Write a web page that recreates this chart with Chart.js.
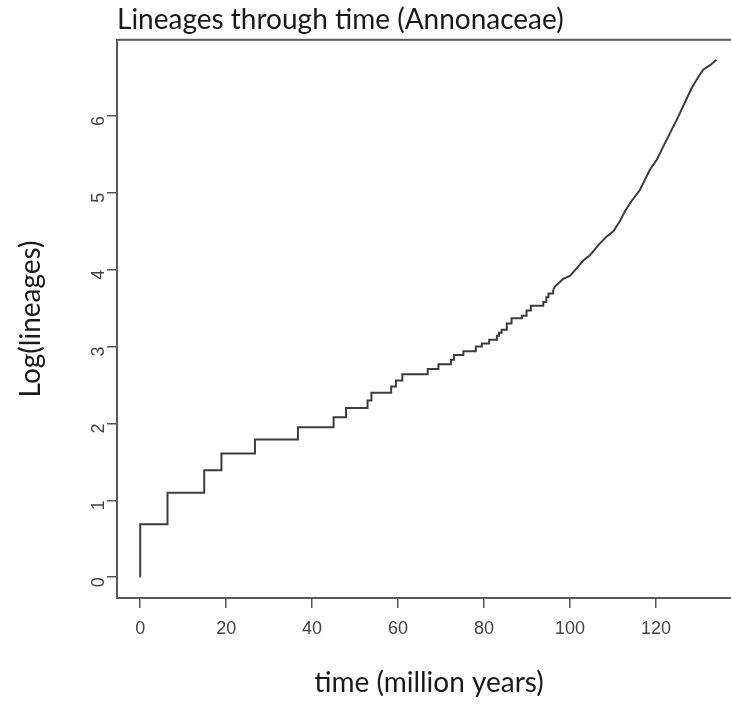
<!DOCTYPE html>
<html>
<head>
<meta charset="utf-8">
<script src="https://cdn.jsdelivr.net/npm/chart.js@4"></script>
<style>
    html, body { margin: 0; padding: 0; background: #fff; overflow: hidden; }
    #wrap { width: 760px; height: 706px; position: relative; }
</style>
</head>
<body>
<div id="wrap"><canvas id="ltt"></canvas></div>
<script>
// early part of the curve, drawn as steps (time, log lineages)
const stepTimes  = [0, 0, 6.35, 14.9, 18.9, 26.7, 36.7, 45.0, 47.9, 52.9, 53.8, 58.4, 59.5, 61.0,
                    66.9, 69.4, 72.3, 73.0, 75.2, 78.1, 79.5, 81.2, 83.0, 83.5, 84.1, 85.3, 86.4,
                    88.8, 89.9, 90.9, 93.8, 94.5, 95.0, 96.1];
const stepValues = [0, 0.69, 1.10, 1.39, 1.61, 1.79, 1.95, 2.08, 2.20, 2.30, 2.40, 2.48, 2.56, 2.64,
                    2.71, 2.77, 2.83, 2.89, 2.94, 3.00, 3.04, 3.09, 3.14, 3.18, 3.22, 3.30, 3.37,
                    3.40, 3.47, 3.53, 3.58, 3.64, 3.69, 3.74];
// late part, many small steps, read as a polyline
const curveTimes  = [96.1, 96.5, 98.4, 100.0, 101.6, 103.1, 104.7, 106.6, 108.5, 110.1, 111.6, 112.8,
                     114.3, 116.3, 118.6, 120.2, 121.7, 123.3, 125.2, 126.7, 128.3, 129.9, 131.0,
                     132.6, 134.1];
const curveValues = [3.74, 3.78, 3.88, 3.92, 4.02, 4.12, 4.19, 4.32, 4.43, 4.50, 4.63, 4.76,
                     4.89, 5.04, 5.30, 5.43, 5.60, 5.78, 5.99, 6.17, 6.36, 6.51, 6.60,
                     6.66, 6.73];
const xTicks = [0, 20, 40, 60, 80, 100, 120];
const yTicks = [0, 1, 2, 3, 4, 5, 6];

const toPoints = (xs, ys) => xs.map((x, i) => ({ x: x, y: ys[i] }));

const boxPlugin = {
    id: 'box',
    afterDraw(chart) {
        const a = chart.chartArea, ctx = chart.ctx;
        ctx.save();
        ctx.strokeStyle = '#5a5a5a';
        ctx.lineWidth = 2;
        ctx.strokeRect(a.left, a.top, a.right - a.left, a.bottom - a.top);
        ctx.restore();
    }
};

const lineColor = '#3c3c3c';
const tickFont = { family: 'Liberation Sans', size: 18 };
const titleFont = { family: 'Lato', size: 28, weight: 'normal' };

new Chart(document.getElementById('ltt'), {
    type: 'line',
    data: {
        datasets: [{
            data: toPoints(stepTimes, stepValues),
            stepped: 'before',
            borderColor: lineColor,
            borderWidth: 2,
            pointRadius: 0
        }, {
            data: toPoints(curveTimes, curveValues),
            borderColor: lineColor,
            borderWidth: 2,
            pointRadius: 0,
            tension: 0
        }]
    },
    options: {
        responsive: true,
        maintainAspectRatio: false,
        animation: false,
        layout: { padding: { left: 0, right: 19, top: 0, bottom: 0 } },
        plugins: {
            legend: { display: false },
            tooltip: { enabled: false },
            title: {
                display: true,
                text: 'Lineages through time (Annonaceae)',
                align: 'start',
                fullSize: false,
                color: '#1a1a1a',
                font: { family: 'Lato', size: 28, weight: 'normal', lineHeight: 1.1 },
                padding: { top: 5, bottom: 4 }
            }
        },
        scales: {
            x: {
                type: 'linear',
                min: -5.4,
                max: 139.8,
                afterFit: s => { s.height = 108; },
                afterBuildTicks: s => { s.ticks = xTicks.map(v => ({ value: v })); },
                grid: { drawOnChartArea: false, tickLength: 10, color: '#555', lineWidth: 1.5 },
                border: { display: true, color: '#5a5a5a', width: 2 },
                ticks: { font: tickFont, color: '#444', padding: 10, maxRotation: 0 },
                title: {
                    display: true,
                    text: 'time (million years)',
                    color: '#1a1a1a',
                    font: titleFont,
                    padding: { top: 0, bottom: 6 }
                }
            },
            y: {
                type: 'linear',
                min: -0.27,
                max: 6.99,
                afterFit: s => { s.width = 117; },
                afterBuildTicks: s => { s.ticks = yTicks.map(v => ({ value: v })); },
                grid: { drawOnChartArea: false, tickLength: 10, color: '#555', lineWidth: 1.5 },
                border: { display: true, color: '#5a5a5a', width: 2 },
                ticks: { font: tickFont, color: '#444', padding: 8, minRotation: 90, maxRotation: 90 },
                title: {
                    display: true,
                    text: 'Log(lineages)',
                    color: '#1a1a1a',
                    font: titleFont,
                    padding: { top: 14, bottom: 0 }
                }
            }
        }
    },
    plugins: [boxPlugin]
});
</script>
</body>
</html>
